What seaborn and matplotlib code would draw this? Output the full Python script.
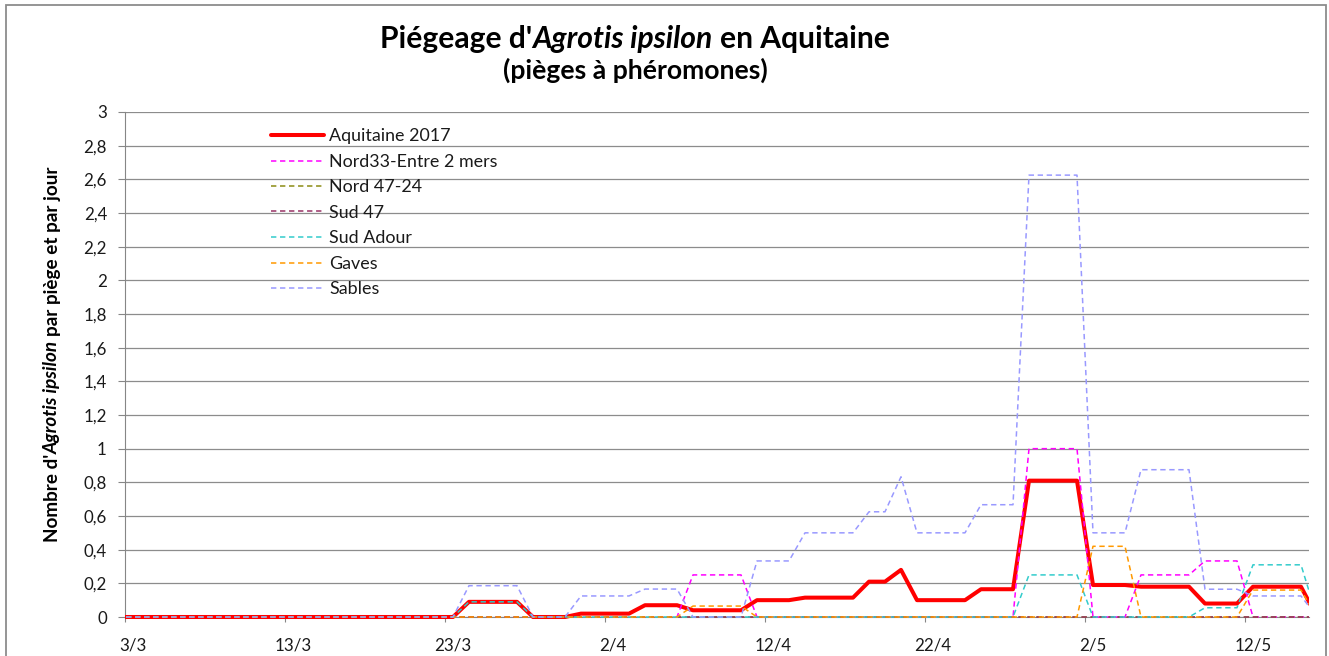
import numpy as np
import pandas as pd
import matplotlib
matplotlib.use("Agg")
import matplotlib.pyplot as plt
import seaborn as sns
from matplotlib.lines import Line2D
from matplotlib.patches import Rectangle

# ------------------------------------------------------------------ data
jours = pd.date_range("2017-03-02", "2017-05-16", freq="D")   # 76 daily readings
origine = pd.Timestamp("2017-03-03")

noms = ["Aquitaine 2017", "Nord33-Entre 2 mers", "Nord 47-24", "Sud 47",
        "Sud Adour", "Gaves", "Sables"]

aquitaine_2017 = [
    0, 0, 0, 0, 0, 0, 0, 0, 0, 0,
    0, 0, 0, 0, 0, 0, 0, 0, 0, 0,
    0, 0, 0.09, 0.09, 0.09, 0.09, 0, 0, 0, 0.02,
    0.02, 0.02, 0.02, 0.07, 0.07, 0.07, 0.04, 0.04, 0.04, 0.04,
    0.10, 0.10, 0.10, 0.115, 0.115, 0.115, 0.115, 0.21, 0.21, 0.28,
    0.10, 0.10, 0.10, 0.10, 0.165, 0.165, 0.165, 0.81, 0.81, 0.81,
    0.81, 0.19, 0.19, 0.19, 0.18, 0.18, 0.18, 0.18, 0.08, 0.08,
    0.08, 0.18, 0.18, 0.18, 0.18, 0,
]
nord33_entre_2_mers = [
    0, 0, 0, 0, 0, 0, 0, 0, 0, 0,
    0, 0, 0, 0, 0, 0, 0, 0, 0, 0,
    0, 0, 0, 0, 0, 0, 0, 0, 0, 0,
    0, 0, 0, 0, 0, 0, 0.25, 0.25, 0.25, 0.25,
    0, 0, 0, 0, 0, 0, 0, 0, 0, 0,
    0, 0, 0, 0, 0, 0, 0, 1.0, 1.0, 1.0,
    1.0, 0, 0, 0, 0.25, 0.25, 0.25, 0.25, 0.333, 0.333,
    0.333, 0, 0, 0, 0, 0,
]
nord_47_24 = [
    0, 0, 0, 0, 0, 0, 0, 0, 0, 0,
    0, 0, 0, 0, 0, 0, 0, 0, 0, 0,
    0, 0, 0, 0, 0, 0, 0, 0, 0, 0,
    0, 0, 0, 0, 0, 0, 0, 0, 0, 0,
    0, 0, 0, 0, 0, 0, 0, 0, 0, 0,
    0, 0, 0, 0, 0, 0, 0, 0, 0, 0,
    0, 0, 0, 0, 0, 0, 0, 0, 0, 0,
    0, 0, 0, 0, 0, 0,
]
sud_47 = [
    0, 0, 0, 0, 0, 0, 0, 0, 0, 0,
    0, 0, 0, 0, 0, 0, 0, 0, 0, 0,
    0, 0, 0, 0, 0, 0, 0, 0, 0, 0,
    0, 0, 0, 0, 0, 0, 0, 0, 0, 0,
    0, 0, 0, 0, 0, 0, 0, 0, 0, 0,
    0, 0, 0, 0, 0, 0, 0, 0, 0, 0,
    0, 0, 0, 0, 0, 0, 0, 0, 0, 0,
    0, 0, 0, 0, 0, 0,
]
sud_adour = [
    0, 0, 0, 0, 0, 0, 0, 0, 0, 0,
    0, 0, 0, 0, 0, 0, 0, 0, 0, 0,
    0, 0, 0.09, 0.09, 0.09, 0.09, 0, 0, 0, 0,
    0, 0, 0, 0, 0, 0, 0, 0, 0, 0,
    0, 0, 0, 0, 0, 0, 0, 0, 0, 0,
    0, 0, 0, 0, 0, 0, 0, 0.25, 0.25, 0.25,
    0.25, 0, 0, 0, 0, 0, 0, 0, 0.055, 0.055,
    0.055, 0.31, 0.31, 0.31, 0.31, 0,
]
gaves = [
    0, 0, 0, 0, 0, 0, 0, 0, 0, 0,
    0, 0, 0, 0, 0, 0, 0, 0, 0, 0,
    0, 0, 0, 0, 0, 0, 0, 0, 0, 0,
    0, 0, 0, 0, 0, 0, 0.065, 0.065, 0.065, 0.065,
    0, 0, 0, 0, 0, 0, 0, 0, 0, 0,
    0, 0, 0, 0, 0, 0, 0, 0, 0, 0,
    0, 0.42, 0.42, 0.42, 0, 0, 0, 0, 0, 0,
    0, 0.16, 0.16, 0.16, 0.16, 0,
]
sables = [
    0, 0, 0, 0, 0, 0, 0, 0, 0, 0,
    0, 0, 0, 0, 0, 0, 0, 0, 0, 0,
    0, 0, 0.186, 0.186, 0.186, 0.186, 0, 0, 0, 0.125,
    0.125, 0.125, 0.125, 0.166, 0.166, 0.166, 0, 0, 0, 0,
    0.333, 0.333, 0.333, 0.5, 0.5, 0.5, 0.5, 0.625, 0.625, 0.833,
    0.5, 0.5, 0.5, 0.5, 0.667, 0.667, 0.667, 2.625, 2.625, 2.625,
    2.625, 0.5, 0.5, 0.5, 0.875, 0.875, 0.875, 0.875, 0.165, 0.165,
    0.165, 0.125, 0.125, 0.125, 0.125, 0,
]

xtick_labels = ["3/3", "13/3", "23/3", "2/4", "12/4", "22/4", "2/5", "12/5"]
ytick_values = [0, 0.2, 0.4, 0.6, 0.8, 1, 1.2, 1.4, 1.6, 1.8, 2, 2.2, 2.4, 2.6, 2.8, 3]

titre_morceaux = [("Piégeage d'", "normal", ""), ("Agrotis ipsilon", "italic", " "), ("en Aquitaine", "normal", "")]
sous_titre = "(pièges à phéromones)"
ylabel_morceaux = [("Nombre d'", "normal", ""), ("Agrotis ipsilon", "italic", " "), ("par piège et par jour", "normal", "")]

# ------------------------------------------------------------------ styles
couleurs = ["#FF0000", "#FF00FF", "#8C8C14", "#993366", "#33CCCC", "#FF9900", "#9999FF"]
epaisseurs = [2.9, 1.1, 1.1, 1.1, 1.1, 1.1, 1.1]
tirets = (0, (3.5, 2.4))
styles = ["-", tirets, tirets, tirets, tirets, tirets, tirets]

W, H, DPI = 1329, 656, 100
sns.set_theme(style="white")
plt.rcParams["font.family"] = ["Lato", "DejaVu Sans"]
TXT = "#1a1a1a"
GRIS = "#868686"

fig = plt.figure(figsize=(W / DPI, H / DPI), dpi=DPI)
fig.patch.set_facecolor("white")
renderer = fig.canvas.get_renderer()

def largeur(s, size, **kw):
    t = fig.text(0, 0, s, fontsize=size, **kw)
    bb = t.get_window_extent(renderer)
    t.remove()
    return bb.width

def espace(size, **kw):
    return largeur("a a", size, **kw) - largeur("aa", size, **kw)

def largeur_morceaux(morceaux, size, weight):
    tot = 0
    for s, st, sep in morceaux:
        tot += largeur(s, size, fontweight=weight, fontstyle=st)
        if sep:
            tot += espace(size, fontweight=weight)
    return tot

# plot area (pixels)
L, R, T, B = 125, 1309, 112, 617
ax = fig.add_axes([L / W, 1 - B / H, (R - L) / W, (B - T) / H])

jour_idx = np.array([(d - origine).days for d in jours])
valeurs = {
    "Aquitaine 2017": aquitaine_2017,
    "Nord33-Entre 2 mers": nord33_entre_2_mers,
    "Nord 47-24": nord_47_24,
    "Sud 47": sud_47,
    "Sud Adour": sud_adour,
    "Gaves": gaves,
    "Sables": sables,
}
df = pd.DataFrame({
    "jour": np.tile(jour_idx, len(noms)),
    "valeur": np.concatenate([np.asarray(valeurs[n], dtype=float) for n in noms]),
    "serie": np.repeat(noms, len(jour_idx)),
})

for i, nom in enumerate(noms):
    sns.lineplot(data=df[df["serie"] == nom], x="jour", y="valeur",
                 color=couleurs[i], linewidth=epaisseurs[i], linestyle=styles[i],
                 estimator=None, legend=False, ax=ax, zorder=3 + i)

clip = Rectangle((0, -0.03), 1, 1.06, transform=ax.transAxes)
for ln in ax.lines:
    ln.set_clip_path(clip)

ax.set_xlim(-0.5, 73.5)
ax.set_ylim(0, 3)
ax.set_xlabel("")
ax.set_ylabel("")
for s in ["top", "right"]:
    ax.spines[s].set_visible(False)
for s in ["left", "bottom"]:
    ax.spines[s].set_color(GRIS)
    ax.spines[s].set_linewidth(0.8)

# tick fonts
fs_tick = 10 * 37 / largeur("23/3", 10)
fs_px = fs_tick * DPI / 72
lbl_pos = [(pd.Timestamp(f"2017-{lab.split('/')[1]}-{lab.split('/')[0]}") - origine).days for lab in xtick_labels]
ax.set_xticks(lbl_pos)
ax.set_xticklabels(xtick_labels)
ax.set_xticks([p - 0.5 for p in lbl_pos], minor=True)
pad_x_px = 650 - 0.74 * fs_px - 617
ax.tick_params(axis="x", which="major", length=0, pad=pad_x_px * 72 / DPI,
               labelsize=fs_tick, labelcolor=TXT, bottom=True)
ax.tick_params(axis="x", which="minor", length=3.6, width=0.8, color=GRIS,
               direction="out", bottom=True)
ax.set_yticks(ytick_values)
ax.set_yticklabels([("%g" % v).replace(".", ",") for v in ytick_values])
ax.tick_params(axis="y", which="major", length=5, width=0.8, color=GRIS,
               direction="out", pad=8, labelsize=fs_tick, labelcolor=TXT, left=True)

ax.yaxis.grid(True, color="#8c8c8c", linewidth=0.9)
ax.xaxis.grid(False)
ax.set_axisbelow(True)

# ------------------------------------------------------------------ title
fs_title = 10 * 510 / largeur_morceaux(titre_morceaux, 10, "bold")
x = 635 - largeur_morceaux(titre_morceaux, fs_title, "bold") / 2
for s, st, sep in titre_morceaux:
    fig.text(x / W, 1 - 48 / H, s, fontsize=fs_title, fontweight="bold", fontstyle=st,
             ha="left", va="baseline", color="black")
    x += largeur(s, fs_title, fontweight="bold", fontstyle=st)
    if sep:
        x += espace(fs_title, fontweight="bold")

fs_sub = 10 * 265 / largeur(sous_titre, 10, fontweight="bold")
fig.text(635 / W, 1 - 79 / H, sous_titre, fontsize=fs_sub, fontweight="bold",
         ha="center", va="baseline", color="black")

# ------------------------------------------------------------------ y label
fs_yl = 10 * 377 / largeur_morceaux(ylabel_morceaux, 10, "bold")
y = 542
for s, st, sep in ylabel_morceaux:
    fig.text(58 / W, 1 - y / H, s, fontsize=fs_yl, fontweight="bold", fontstyle=st,
             rotation=90, rotation_mode="anchor", ha="left", va="baseline", color="black")
    y -= largeur(s, fs_yl, fontweight="bold", fontstyle=st)
    if sep:
        y -= espace(fs_yl, fontweight="bold")

# ------------------------------------------------------------------ legend
fs_leg = 10 * 122 / largeur("Aquitaine 2017", 10)
leg_px = fs_leg * DPI / 72
handles = [Line2D([], [], color=couleurs[i], linewidth=epaisseurs[i], linestyle=styles[i])
           for i in range(len(noms))]

def make_legend(anchor_x, anchor_y, spacing):
    return ax.legend(handles, noms, loc="upper left",
                     bbox_to_anchor=(anchor_x / W, 1 - anchor_y / H),
                     bbox_transform=fig.transFigure, frameon=False,
                     fontsize=fs_leg, handlelength=53 / leg_px, handletextpad=5 / leg_px,
                     labelspacing=spacing, borderpad=0, borderaxespad=0,
                     labelcolor=TXT)

ax_, ay_, sp_ = 272.0, 125.0, 0.45
leg = make_legend(ax_, ay_, sp_)
fig.canvas.draw()
hl = leg.legend_handles
def centre_y(h):
    bb = h.get_window_extent(renderer)
    return H - (bb.y0 + bb.y1) / 2
def gauche_x(h):
    return h.get_window_extent(renderer).x0
pitch = (centre_y(hl[-1]) - centre_y(hl[0])) / 6
sp_ = sp_ + (25.5 - pitch) / leg_px
leg.remove()
leg = make_legend(ax_, ay_, sp_)
fig.canvas.draw()
hl = leg.legend_handles
ay_ += 135 - centre_y(hl[0])
ax_ += 272 - gauche_x(hl[0]) - 1
leg.remove()
leg = make_legend(ax_, ay_, sp_)

# ------------------------------------------------------------------ chart frame
fig.add_artist(Rectangle((6 / W, -0.02), (1326 - 6) / W, 1 - 5 / H + 0.02,
                         transform=fig.transFigure, fill=False,
                         edgecolor="#8c8c8c", linewidth=1.3))

fig.savefig("out.png", dpi=DPI, facecolor="white")
